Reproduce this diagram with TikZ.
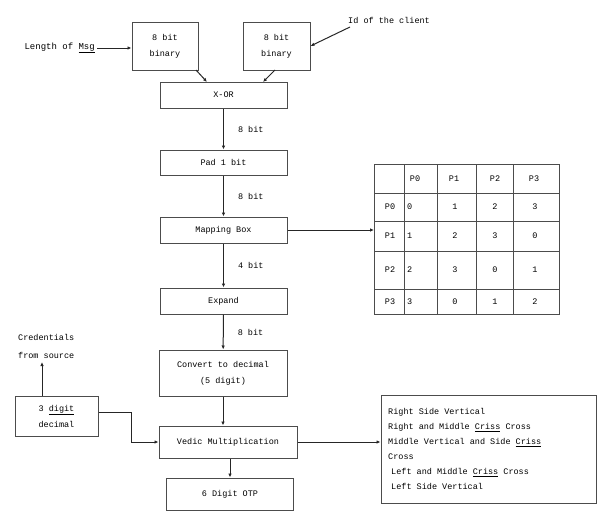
\documentclass[tikz,border=0pt]{standalone}
\usepackage{fontspec}
\setmainfont{Liberation Mono}
\usetikzlibrary{arrows.meta}
\begin{document}
\begin{tikzpicture}[x=1pt,y=-1pt,
  box/.style={draw=black!70,line width=1pt,inner sep=0pt,font=\fontsize{8.5}{16}\selectfont,align=center},
  arr/.style={draw=black!85,line width=1pt,-{Latex[length=4pt,width=3.5pt]}},
  lbl/.style={font=\fontsize{8.5}{10}\selectfont,inner sep=0pt},
  cell/.style={font=\fontsize{8.5}{10}\selectfont,inner sep=0pt}]
\useasboundingbox (0,0) rectangle (597,514);
% boxes
\node[box,minimum width=66pt,minimum height=48pt] (b1) at (165,46) {8 bit\\binary};
\node[box,minimum width=67pt,minimum height=48pt] (b2) at (276.5,46) {8 bit\\binary};
\node[box,minimum width=127pt,minimum height=26pt] (xor) at (223.5,95) {X-OR};
\node[box,minimum width=127pt,minimum height=25pt] (pad) at (223.5,162.5) {Pad 1 bit};
\node[box,minimum width=127pt,minimum height=26pt] (map) at (223.5,230) {Mapping Box};
\node[box,minimum width=127pt,minimum height=26pt] (exp) at (223.5,301) {Expand};
\node[box,minimum width=128pt,minimum height=46pt] (conv) at (223,373) {Convert to decimal\\(5 digit)};
\node[box,minimum width=138pt,minimum height=32pt] (ved) at (228,442) {Vedic Multiplication};
\node[box,minimum width=127pt,minimum height=32pt] (otp) at (230,494) {6 Digit OTP};
\node[box,minimum width=83pt,minimum height=40pt] (dec) at (56.5,416) {3 \underline{digit}\\decimal};
% free texts
\node[lbl,anchor=east,font=\fontsize{9}{10}\selectfont] (len) at (95,48) {Length of \underline{Msg}};
\node[lbl,anchor=west] (id) at (348,20) {Id of the client};
\node[lbl,align=left,anchor=west,font=\fontsize{8.5}{18}\selectfont] (cred) at (18,346) {Credentials\\from source};
\coordinate (lenend) at (97,48);
\coordinate (idstart) at (350,27);
\coordinate (credend) at (42,362);
% connectors
\draw[arr] (lenend) -- (b1.west|-lenend);
\draw[arr] (idstart) -- (b2.east);
\draw[arr] (196,70) -- (207,82);
\draw[arr] (275,70) -- (263,82);
\draw[arr] (xor) -- (pad) node[lbl,midway,right=14pt] {8 bit};
\draw[arr] (pad) -- (map) node[lbl,midway,right=14pt] {8 bit};
\draw[arr] (map) -- (exp) node[lbl,midway,right=14pt] {4 bit};
\draw[arr] (exp) -- (conv) node[lbl,midway,right=14pt] {8 bit};
\draw[arr] (conv.south) -- (conv.south|-ved.north);
\draw[arr] (otp.north|-ved.south) -- (otp.north);
\draw[arr] (dec.north-|credend) -- (credend);
\draw[arr] (dec.east|-0,412) -- (131,412) |- (ved.west);
% table
\draw[black!70,line width=1pt] (374,164) rectangle (559,314);
\foreach \x in {404,437,476,513} \draw[black!70,line width=1pt] (\x,164) -- (\x,314);
\foreach \y in {193,221,251,289} \draw[black!70,line width=1pt] (374,\y) -- (559,\y);
\node[cell] (h1) at (415,178.5) {P0};
\node[cell] (h2) at (454,178.5) {P1};
\node[cell] (h3) at (495,178.5) {P2};
\node[cell] (h4) at (534,178.5) {P3};
\node[cell] (r0) at (390,207) {P0};
\node[cell] (r1) at (390,236) {P1};
\node[cell] (r2) at (390,270) {P2};
\node[cell] (r3) at (390,301.5) {P3};
\foreach \yy/\a/\b/\c/\d in {207/0/1/2/3,236/1/2/3/0,270/2/3/0/1,301.5/3/0/1/2}{
  \node[cell,anchor=west] at (407,\yy) {\a};
  \node[cell] at (455,\yy) {\b};
  \node[cell] at (495,\yy) {\c};
  \node[cell] at (535,\yy) {\d};
}
\draw[arr] (map.east) -- (374,230);
% text box
\node[draw=black!70,line width=1pt,minimum width=215pt,minimum height=108pt] (tb) at (488.5,449) {};
\node[lbl,align=left,anchor=north west,font=\fontsize{8.5}{15}\selectfont] (tbt) at (388,408) {Right Side Vertical\\Right and Middle \underline{Criss} Cross\\Middle Vertical and Side \underline{Criss}\\Cross\\\hspace*{3pt}Left and Middle \underline{Criss} Cross\\\hspace*{3pt}Left Side Vertical};
\draw[arr] (ved.east) -- (tb.west|-ved.east);
\end{tikzpicture}
\end{document}
